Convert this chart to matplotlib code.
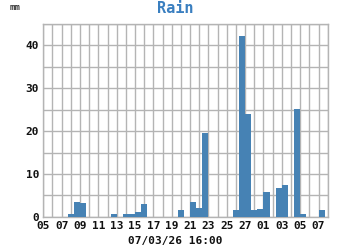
import matplotlib
matplotlib.use("Agg")
import matplotlib.pyplot as plt
import matplotlib.dates as mdates
import pandas as pd

# Data
bar_times = ["2026-02-07 16:00", "2026-02-08 08:00", "2026-02-09 00:00",
             "2026-02-12 08:00", "2026-02-13 16:00", "2026-02-14 08:00",
             "2026-02-15 00:00", "2026-02-15 16:00", "2026-02-19 16:00",
             "2026-02-21 00:00", "2026-02-21 16:00", "2026-02-22 08:00",
             "2026-02-25 16:00", "2026-02-26 08:00", "2026-02-27 00:00",
             "2026-02-27 16:00", "2026-02-28 08:00", "2026-03-01 00:00",
             "2026-03-02 08:00", "2026-03-03 00:00", "2026-03-04 08:00",
             "2026-03-05 00:00", "2026-03-07 00:00"]
rain_mm = [0.55, 3.35, 3.1, 0.55, 0.7, 0.7, 1.1, 2.9, 1.5, 3.4, 2.1, 19.5,
           1.5, 42.3, 24.0, 1.5, 1.9, 5.7, 6.7, 7.3, 25.2, 0.7, 1.5]
tick_dates = ["2026-02-05", "2026-02-07", "2026-02-09", "2026-02-11",
              "2026-02-13", "2026-02-15", "2026-02-17", "2026-02-19",
              "2026-02-21", "2026-02-23", "2026-02-25", "2026-02-27",
              "2026-03-01", "2026-03-03", "2026-03-05", "2026-03-07"]
y_ticks = [0, 10, 20, 30, 40]
title = "Rain"
unit = "mm"
x_caption = "07/03/26 16:00"
x_start, x_end = "2026-02-05", "2026-03-08"

mono = "DejaVu Sans Mono"
bar_color = "#4682b4"
grid_color = "#b4b4b4"

fig = plt.figure(figsize=(3.5, 2.5), dpi=100)
ax = fig.add_axes([0.1237, 0.133, 0.8126, 0.771])

t = pd.to_datetime(bar_times)
ax.bar(t, rain_mm, width=16 / 24, align="edge", color=bar_color,
       linewidth=0, zorder=3)

ax.set_xlim(pd.Timestamp(x_start), pd.Timestamp(x_end))
ax.set_ylim(0, 45)

ax.set_xticks(pd.to_datetime(tick_dates))
ax.xaxis.set_major_formatter(mdates.DateFormatter("%d"))
ax.xaxis.set_minor_locator(mdates.DayLocator())
ax.set_yticks(y_ticks)
ax.set_yticks([5, 15, 25, 35, 45], minor=True)

ax.grid(True, which="both", color=grid_color, linewidth=1.0, zorder=0)
ax.set_axisbelow(True)
for s in ax.spines.values():
    s.set_color(grid_color)
    s.set_linewidth(1.0)

ax.tick_params(which="both", length=0, pad=3)
for lab in ax.get_xticklabels() + ax.get_yticklabels():
    lab.set_fontfamily(mono)
    lab.set_fontweight("bold")
    lab.set_fontsize(8)
    lab.set_color("#111111")

fig.text(0.5, 0.965, title, ha="center", va="center", fontfamily=mono,
         fontweight="bold", fontsize=11, color="#3a7fc0")
fig.text(0.043, 0.972, unit, ha="center", va="center", fontfamily=mono,
         fontweight="bold", fontsize=6.5, color="#333333")
fig.text(0.5, 0.036, x_caption, ha="center", va="center", fontfamily=mono,
         fontweight="bold", fontsize=8, color="#111111")

fig.savefig("out.png", dpi=100)
